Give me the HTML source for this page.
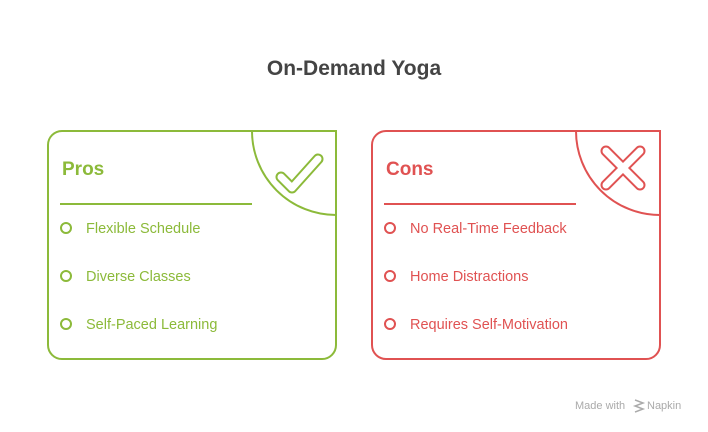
<!DOCTYPE html>
<html><head><style>
body{margin:0;width:708px;height:432px;background:#fff;font-family:"Liberation Sans",sans-serif;overflow:hidden;position:relative}
</style></head><body>
<svg width="708" height="432" style="position:absolute;left:0;top:0">
<text x="354" y="75" text-anchor="middle" font-family="Liberation Sans" font-weight="bold" font-size="21" fill="#444">On-Demand Yoga</text>
<path d="M62,131 H336 V345 a14,14 0 0 1 -14,14 H62 a14,14 0 0 1 -14,-14 V145 a14,14 0 0 1 14,-14 Z" fill="none" stroke="#8cba3a" stroke-width="2"/>
<path d="M252,131 A84,84 0 0 0 336,215" fill="none" stroke="#8cba3a" stroke-width="2"/>
<path d="M281,177 L292,188 L318,159" fill="none" stroke="#8cba3a" stroke-width="11" stroke-linecap="round" stroke-linejoin="round"/>
<path d="M281,177 L292,188 L318,159" fill="none" stroke="#fff" stroke-width="7" stroke-linecap="round" stroke-linejoin="round"/>
<text x="62" y="175" font-weight="bold" font-size="19" fill="#8cba3a">Pros</text>
<line x1="60" y1="204" x2="252" y2="204" stroke="#8cba3a" stroke-width="2"/>
<g fill="none" stroke="#8cba3a" stroke-width="2"><circle cx="66" cy="228" r="5"/><circle cx="66" cy="276" r="5"/><circle cx="66" cy="324" r="5"/></g>
<g font-size="14.5" fill="#8cba3a"><text x="86" y="233">Flexible Schedule</text><text x="86" y="281">Diverse Classes</text><text x="86" y="329">Self-Paced Learning</text></g>
<path d="M386,131 H660 V345 a14,14 0 0 1 -14,14 H386 a14,14 0 0 1 -14,-14 V145 a14,14 0 0 1 14,-14 Z" fill="none" stroke="#e05252" stroke-width="2"/>
<path d="M576,131 A84,84 0 0 0 660,215" fill="none" stroke="#e05252" stroke-width="2"/>
<path d="M606,151 L640,185 M640,151 L606,185" fill="none" stroke="#e05252" stroke-width="11" stroke-linecap="round"/>
<path d="M606,151 L640,185 M640,151 L606,185" fill="none" stroke="#fff" stroke-width="7" stroke-linecap="round"/>
<text x="386" y="175" font-weight="bold" font-size="19" fill="#e05252">Cons</text>
<line x1="384" y1="204" x2="576" y2="204" stroke="#e05252" stroke-width="2"/>
<g fill="none" stroke="#e05252" stroke-width="2"><circle cx="390" cy="228" r="5"/><circle cx="390" cy="276" r="5"/><circle cx="390" cy="324" r="5"/></g>
<g font-size="14.5" fill="#e05252"><text x="410" y="233">No Real-Time Feedback</text><text x="410" y="281">Home Distractions</text><text x="410" y="329">Requires Self-Motivation</text></g>
<text x="575" y="409" font-size="11" fill="#aaa">Made with</text>
<path d="M635,400 l8,3 l-8,3 l8,3 l-8,3" fill="none" stroke="#aaa" stroke-width="1.5"/>
<text x="647" y="409" font-size="11" fill="#aaa">Napkin</text>
</svg>
</body></html>
